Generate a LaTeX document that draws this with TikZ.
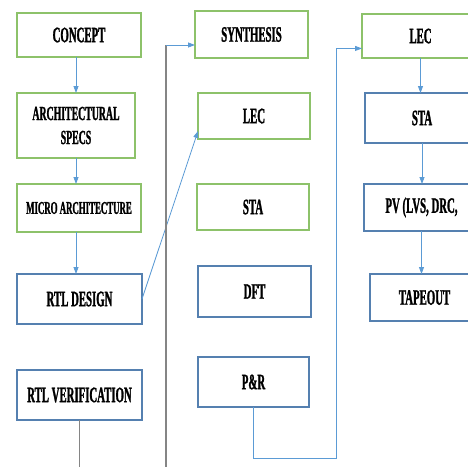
\documentclass[tikz,border=0pt]{standalone}
\usepackage{fontspec}
\newfontfamily\stagefont[FakeStretch=0.49, BoldFeatures={FakeBold=1.2}]{Liberation Serif}
\usepackage{xcolor}
\definecolor{stageGreen}{HTML}{8DC26A}
\definecolor{stageBlue} {HTML}{5580B0}
\definecolor{flowBlue}  {HTML}{5B9BD5}
\definecolor{wireGrey}  {HTML}{858585}
\usetikzlibrary{arrows.meta, positioning, calc}
\tikzset{
    stage/.style={draw, line width=1.6pt, inner sep=2pt, outer sep=0pt, align=center,
                  font=\stagefont\bfseries\fontsize{22}{25}\selectfont},
    gstage/.style={stage, draw=stageGreen},
    bstage/.style={stage, draw=stageBlue},
    boxsize/.style 2 args={minimum width=#1, minimum height=#2},
    flow/.style={-{Triangle[length=7pt, width=5pt]}, draw=flowBlue,
                 line width=0.8pt},
    wire/.style={-, draw=wireGrey, line width=1.3pt},
}

\begin{document}
\begin{tikzpicture}[x=1pt, y=-1pt]
    \path[use as bounding box, fill=white] (0,0) rectangle (468,466);
    \clip (0,0) rectangle (468,466);

    % front end
    \node[gstage, boxsize={124pt}{44pt}, anchor=north west] (concept) at (17,13) {CONCEPT};
    \node[gstage, boxsize={118pt}{65pt}, below=36pt of concept.south west, anchor=north west,
          font=\stagefont\bfseries\fontsize{20}{24}\selectfont] (specs) {ARCHITECTURAL\\SPECS};
    \node[gstage, boxsize={124pt}{48pt}, below=26pt of specs.south west, anchor=north west,
          font=\stagefont\bfseries\fontsize{18}{20}\selectfont] (micro) {MICRO ARCHITECTURE};
    \node[bstage, boxsize={125pt}{50pt}, below=42pt of micro.south west, anchor=north west] (rtl) {RTL DESIGN};
    \node[bstage, boxsize={125pt}{50pt}, below=46pt of rtl.south west, anchor=north west] (rtlv) {RTL VERIFICATION};

    % implementation
    \node[gstage, boxsize={113pt}{47pt}, anchor=north west] (synth) at (195,11) {SYNTHESIS};
    \node[gstage, boxsize={112pt}{46pt}, below=35pt of synth.south west, anchor=north west, xshift=3pt] (lecA) {LEC};
    \node[gstage, boxsize={112pt}{46pt}, below=45pt of lecA.south west, anchor=north west, xshift=-1pt] (staA) {STA};
    \node[bstage, boxsize={113pt}{51pt}, below=36pt of staA.south west, anchor=north west, xshift=1pt] (dft) {DFT};
    \node[bstage, boxsize={111pt}{50pt}, below=40pt of dft.south west, anchor=north west] (pr) {P\&R};

    % signoff
    \node[gstage, boxsize={117pt}{44pt}, anchor=north west] (lecC) at (362,14) {LEC};
    \node[bstage, boxsize={114pt}{50pt}, below=35pt of lecC.south west, anchor=north west, xshift=3pt] (staC) {STA};
    \node[bstage, boxsize={115pt}{47pt}, below=41pt of staC.south west, anchor=north west, xshift=-1pt] (pv) {PV (LVS, DRC,};
    \node[bstage, boxsize={109pt}{47pt}, below=43pt of pv.south west, anchor=north west, xshift=6pt] (tape) {TAPEOUT};

    \coordinate (bendA) at (166,45);
    \coordinate (lowA)  at (166,490);
    \coordinate (lowB)  at (336,458);

    \draw[flow] (concept.south -| specs.north) -- (specs.north);
    \draw[flow] (specs.south) -- (specs.south |- micro.north);
    \draw[flow] (micro.south -| specs.south) -- (specs.south |- rtl.north);
    \draw[flow] (rtl.east) -- (lecA.195);
    \draw[wire] (rtlv.south) |- (lowA) -- (bendA);
    \draw[flow] (bendA) -- (bendA -| synth.west);
    \draw[flow] (pr.south) |- (lowB) |- (lecC.192);
    \draw[flow] (lecC.south) -- (lecC.south |- staC.north);
    \draw[flow] (staC.south) -- (staC.south |- pv.north);
    \draw[flow] (pv.south) -- (pv.south |- tape.north);
\end{tikzpicture}
\end{document}
